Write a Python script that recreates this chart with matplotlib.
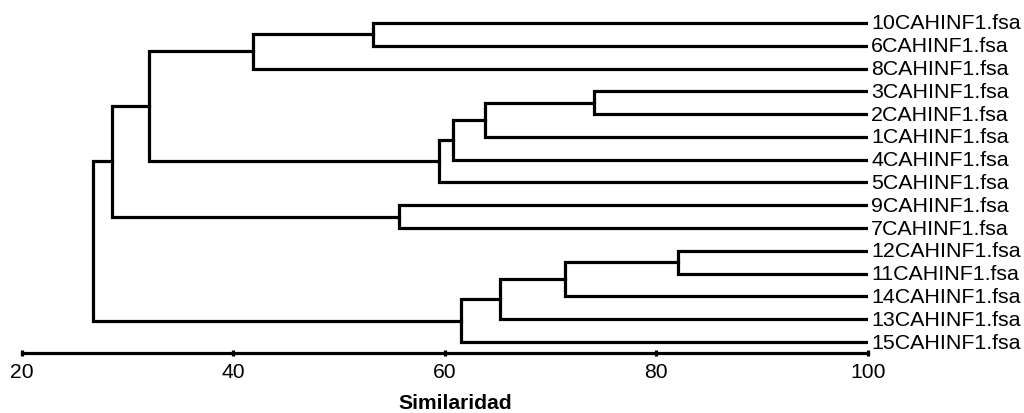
import matplotlib
matplotlib.use('Agg')
import matplotlib.pyplot as plt
from matplotlib.transforms import offset_copy

plt.rcParams['font.family'] = ['Liberation Sans', 'DejaVu Sans']

# hojas en el orden mostrado (de arriba a abajo)
leaves = ['10CAHINF1.fsa', '6CAHINF1.fsa', '8CAHINF1.fsa', '3CAHINF1.fsa',
          '2CAHINF1.fsa', '1CAHINF1.fsa', '4CAHINF1.fsa', '5CAHINF1.fsa',
          '9CAHINF1.fsa', '7CAHINF1.fsa', '12CAHINF1.fsa', '11CAHINF1.fsa',
          '14CAHINF1.fsa', '13CAHINF1.fsa', '15CAHINF1.fsa']

# uniones: nodo izquierdo, nodo derecho (indices; >=15 son uniones previas)
merge_a = [0, 15, 3, 17, 18, 19, 16, 8, 21, 10, 24, 25, 26, 23]
merge_b = [1, 2, 4, 5, 6, 7, 20, 9, 22, 11, 12, 13, 14, 27]
merge_sim = [53.2, 41.9, 74.1, 63.8, 60.8, 59.4, 32.0, 55.7, 28.5,
             82.0, 71.4, 65.2, 61.5, 26.7]

xticks = [20, 40, 60, 80, 100]

fig = plt.figure(figsize=(10.24, 4.14), dpi=100)
ax = fig.add_axes([21.7/1024, 60/414, (868-21.7)/1024, 354/414])

n = len(leaves)
node_y = list(range(n))
node_x = [100.0] * n
lw = 2.3
for a, b, s in zip(merge_a, merge_b, merge_sim):
    ya, yb = node_y[a], node_y[b]
    ax.plot([node_x[a], s, s, node_x[b]], [ya, ya, yb, yb], color='black',
            lw=lw, solid_joinstyle='miter', solid_capstyle='projecting')
    node_y.append((ya + yb) / 2)
    node_x.append(s)

trans = offset_copy(ax.transData, fig=fig, x=3, y=0, units='dots')
for i, name in enumerate(leaves):
    ax.text(100, i, name, transform=trans, ha='left', va='center',
            fontsize=15.4, clip_on=False)

ax.set_xlim(20, 100)
ax.set_ylim(14.48, -1.05)
for side in ['top', 'right', 'left']:
    ax.spines[side].set_visible(False)
ax.spines['bottom'].set_linewidth(2.3)
ax.set_yticks([])
ax.set_xticks(xticks)
ax.tick_params(axis='x', direction='inout', length=5, width=2.3, pad=4,
               labelsize=15.2)

fig.text(455/1024, 5/414, 'Similaridad', ha='center', va='baseline',
         fontsize=15.2, fontweight='bold')

fig.savefig('out.png', dpi=100)
